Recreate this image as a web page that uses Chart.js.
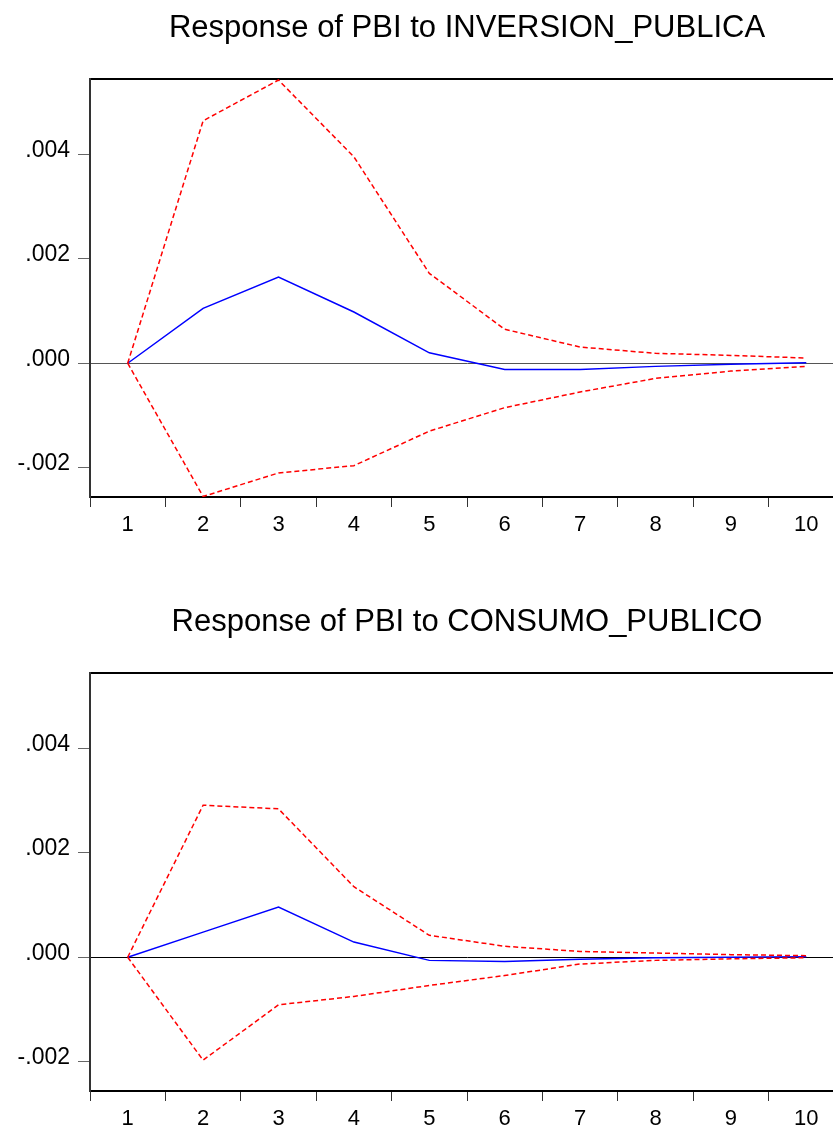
<!DOCTYPE html>
<html>
<head>
<meta charset="utf-8">
<script src="https://cdn.jsdelivr.net/npm/chart.js@4.4.1/dist/chart.umd.min.js"></script>
<style>
    html, body { margin: 0; padding: 0; background: #fff; overflow: hidden; width: 833px; height: 1130px; }
    canvas { position: absolute; left: 0; }
    #invChart { top: 0; }
    #conChart { top: 594px; }
</style>
</head>
<body>
<canvas id="invChart" width="850" height="536"></canvas>
<canvas id="conChart" width="850" height="536"></canvas>
<script>
const periods = ['1', '2', '3', '4', '5', '6', '7', '8', '9', '10'];
const yTickValues = [-0.002, 0, 0.002, 0.004];
const yMin = -0.00256;
const yMax = 0.00544;

const invTitle = 'Response of PBI to INVERSION_PUBLICA';
const invResponse = [0, 0.00105, 0.00165, 0.00098, 0.00020, -0.00012, -0.00012, -0.00006, -0.00002, 0.00001];
const invUpper = [0, 0.00464, 0.00542, 0.00395, 0.00172, 0.00065, 0.00031, 0.00019, 0.00015, 0.00010];
const invLower = [0, -0.00255, -0.00210, -0.00196, -0.00130, -0.00085, -0.00055, -0.00029, -0.00015, -0.00006];

const conTitle = 'Response of PBI to CONSUMO_PUBLICO';
const conResponse = [0, 0.00048, 0.00096, 0.00029, -0.00006, -0.00008, -0.00004, -0.00001, 0, 0.00001];
const conUpper = [0, 0.00291, 0.00284, 0.00135, 0.00042, 0.00021, 0.00011, 0.00008, 0.00005, 0.00003];
const conLower = [0, -0.00197, -0.00091, -0.00075, -0.00054, -0.00035, -0.00013, -0.00006, -0.00003, -0.00001];

const fontFamily = '"Liberation Sans", Arial, sans-serif';

function formatTick(value) {
    // EViews style: .004, .000, -.002
    return value.toFixed(3).replace('0.', '.');
}

function makePanel(canvasId, title, response, lower, upper, zeroColor) {
    const ctx = document.getElementById(canvasId).getContext('2d');
    return new Chart(ctx, {
        type: 'line',
        data: {
            labels: periods,
            datasets: [
                {
                    label: 'upper',
                    data: upper,
                    borderColor: '#ff0000',
                    borderWidth: 1.5,
                    borderDash: [5, 3],
                    pointRadius: 0,
                    tension: 0
                },
                {
                    label: 'lower',
                    data: lower,
                    borderColor: '#ff0000',
                    borderWidth: 1.5,
                    borderDash: [5, 3],
                    pointRadius: 0,
                    tension: 0
                },
                {
                    label: 'response',
                    data: response,
                    borderColor: '#0000ff',
                    borderWidth: 1.5,
                    pointRadius: 0,
                    tension: 0
                }
            ]
        },
        options: {
            responsive: false,
            animation: false,
            layout: { padding: { left: 0, right: 6, top: 0, bottom: 0 } },
            plugins: {
                legend: { display: false },
                tooltip: { enabled: false }
            },
            scales: {
                x: {
                    type: 'category',
                    position: 'bottom',
                    offset: true,
                    grid: {
                        offset: true,
                        drawOnChartArea: false,
                        drawTicks: true,
                        tickLength: 10,
                        tickColor: '#333'
                    },
                    border: { display: true, color: '#000', width: 2 },
                    ticks: {
                        color: '#000',
                        padding: 5,
                        maxRotation: 0,
                        autoSkip: false,
                        font: { family: fontFamily, size: 22 }
                    },
                    afterFit: function(scale) { scale.height = 39; }
                },
                x2: {
                    type: 'category',
                    position: 'top',
                    offset: true,
                    grid: { drawOnChartArea: false, drawTicks: false },
                    border: { display: true, color: '#000', width: 2 },
                    ticks: { display: false },
                    title: {
                        display: true,
                        text: title,
                        color: '#000',
                        padding: { top: 10, bottom: 0 },
                        font: { family: fontFamily, size: 31, lineHeight: 1.2 }
                    },
                    afterFit: function(scale) { scale.height = 79; }
                },
                y: {
                    type: 'linear',
                    min: yMin,
                    max: yMax,
                    afterBuildTicks: function(scale) {
                        scale.ticks = yTickValues.map(v => ({ value: v }));
                    },
                    grid: {
                        drawOnChartArea: true,
                        drawTicks: true,
                        tickLength: 12,
                        tickColor: '#666',
                        lineWidth: 1,
                        color: function(context) {
                            return context.tick && context.tick.value === 0 ? zeroColor : 'rgba(0,0,0,0)';
                        }
                    },
                    border: { display: true, color: '#333', width: 2 },
                    ticks: {
                        color: '#000',
                        padding: 8,
                        labelOffset: -4,
                        font: { family: fontFamily, size: 23 },
                        callback: function(value) { return formatTick(value); }
                    },
                    afterFit: function(scale) { scale.width = 90; }
                }
            }
        }
    });
}

makePanel('invChart', invTitle, invResponse, invLower, invUpper, '#555');
makePanel('conChart', conTitle, conResponse, conLower, conUpper, '#000');
</script>
</body>
</html>
